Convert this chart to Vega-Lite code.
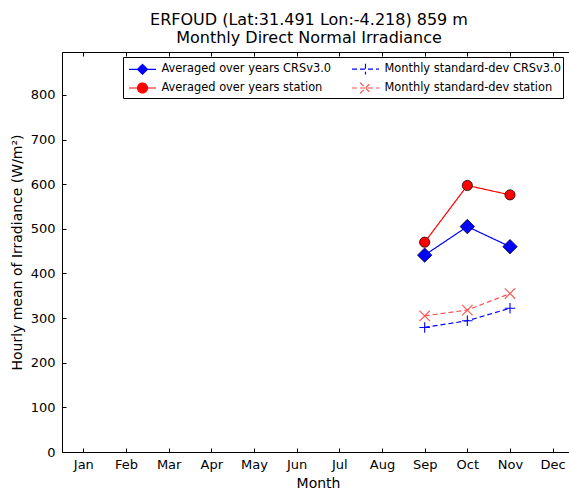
{
  "$schema": "https://vega.github.io/schema/vega-lite/v6.json",
  "autosize": {"type": "none"},
  "padding": {"left": 62, "top": 52, "right": 0, "bottom": 39},
  "width": 512,
  "height": 400,
  "background": "white",
  "config": {
    "font": "DejaVu Sans",
    "view": {"stroke": "black", "strokeWidth": 1},
    "axis": {"grid": false, "domainColor": "black", "tickColor": "black", "labelColor": "black", "titleColor": "black", "labelFont": "DejaVu Sans", "titleFont": "DejaVu Sans", "titleFontWeight": "normal"}
  },
  "title": {
    "text": ["ERFOUD (Lat:31.491 Lon:-4.218) 859 m", "Monthly Direct Normal Irradiance"],
    "fontSize": 16,
    "fontWeight": "normal",
    "font": "DejaVu Sans",
    "color": "black",
    "lineHeight": 18,
    "offset": 6,
    "dx": -9,
    "anchor": "middle"
  },
  "data": {
    "values": [
      {"month": 9, "series": "Averaged over years CRSv3.0", "value": 441},
      {"month": 10, "series": "Averaged over years CRSv3.0", "value": 505},
      {"month": 11, "series": "Averaged over years CRSv3.0", "value": 460},
      {"month": 9, "series": "Averaged over years station", "value": 470},
      {"month": 10, "series": "Averaged over years station", "value": 597},
      {"month": 11, "series": "Averaged over years station", "value": 576},
      {"month": 9, "series": "Monthly standard-dev CRSv3.0", "value": 279},
      {"month": 10, "series": "Monthly standard-dev CRSv3.0", "value": 294},
      {"month": 11, "series": "Monthly standard-dev CRSv3.0", "value": 322},
      {"month": 9, "series": "Monthly standard-dev station", "value": 305},
      {"month": 10, "series": "Monthly standard-dev station", "value": 318},
      {"month": 11, "series": "Monthly standard-dev station", "value": 355}
    ]
  },
  "resolve": {"axis": {"x": "independent"}},
  "layer": [
    {
      "mark": {"type": "point", "opacity": 0, "strokeWidth": 1.2},
      "encoding": {
        "x": {
          "field": "month", "type": "quantitative",
          "scale": {"domain": [0.5, 12.5], "nice": false, "zero": false},
          "axis": {"orient": "top", "values": [1,2,3,4,5,6,7,8,9,10,11,12], "labels": false, "domain": false, "tickSize": -4, "title": null}
        },
        "y": {
          "field": "value", "type": "quantitative",
          "scale": {"domain": [0, 896], "nice": false},
          "axis": {
            "values": [0,100,200,300,400,500,600,700,800],
            "title": "Hourly mean of Irradiance (W/m²)", "titleFontSize": 14, "labelFontSize": 13,
            "tickSize": -4, "labelPadding": 11, "titlePadding": 6, "labelFlush": false
          }
        },
        "fill": {"field": "series", "type": "nominal",
          "scale": {
            "domain": ["Averaged over years CRSv3.0", "Averaged over years station", "Monthly standard-dev CRSv3.0", "Monthly standard-dev station"],
            "range": ["#0000ff", "#ff0000", "#0000ff", "#ff5050"]
          },
          "legend": {
            "title": null, "orient": "none", "legendX": 61, "legendY": 5,
            "columns": 2, "columnPadding": 16, "rowPadding": 1,
            "symbolSize": 324, "symbolOffset": 7.5, "symbolStrokeWidth": 1.2, "labelFontSize": 11.4, "labelFont": "DejaVu Sans", "labelColor": "black",
            "labelOffset": 9, "labelLimit": 300,
            "strokeColor": "black", "fillColor": "white", "padding": 2, "cornerRadius": 0,
            "encode": {"symbols": {"update": {"opacity": {"value": 1}}}}
          }
        },
        "stroke": {"field": "series", "type": "nominal",
          "scale": {
            "domain": ["Averaged over years CRSv3.0", "Averaged over years station", "Monthly standard-dev CRSv3.0", "Monthly standard-dev station"],
            "range": ["#0000ff", "#ff0000", "#0000ff", "#ff5050"]
          }
        },
        "strokeDash": {"field": "series", "type": "nominal",
          "scale": {
            "domain": ["Averaged over years CRSv3.0", "Averaged over years station", "Monthly standard-dev CRSv3.0", "Monthly standard-dev station"],
            "range": [[1, 0], [1, 0], [5, 3], [5, 3]]
          }
        },
        "shape": {"field": "series", "type": "nominal",
          "scale": {
            "domain": ["Averaged over years CRSv3.0", "Averaged over years station", "Monthly standard-dev CRSv3.0", "Monthly standard-dev station"],
            "range": [
              "M-1.5,0H1.5M0,-0.55L0.55,0L0,0.55L-0.55,0Z",
              "M-1.5,0H1.5M0.55,0A0.55,0.55,0,1,1,-0.55,0A0.55,0.55,0,1,1,0.55,0Z",
              "M-1.5,0H1.5M0,-0.6V0.6",
              "M-1.5,0H1.5M-0.6,-0.6L0.6,0.6M-0.6,0.6L0.6,-0.6"
            ]
          }
        }
      }
    },
    {
      "mark": {"type": "line", "strokeWidth": 1.2},
      "encoding": {
        "x": {
          "field": "month", "type": "quantitative",
          "axis": {
            "values": [1,2,3,4,5,6,7,8,9,10,11,12],
            "labelExpr": "['Jan','Feb','Mar','Apr','May','Jun','Jul','Aug','Sep','Oct','Nov','Dec'][datum.value-1]",
            "title": "Month", "titleFontSize": 14, "labelFontSize": 13,
            "tickSize": -4, "labelPadding": 10, "titlePadding": 5, "labelFlush": false, "labelOverlap": false
          }
        },
        "y": {"field": "value", "type": "quantitative"},
        "stroke": {"field": "series", "type": "nominal",
          "scale": {
            "domain": ["Averaged over years CRSv3.0", "Averaged over years station", "Monthly standard-dev CRSv3.0", "Monthly standard-dev station"],
            "range": ["#0000ff", "#ff0000", "#0000ff", "#ff5050"]
          }
        },
        "strokeDash": {"field": "series", "type": "nominal",
          "scale": {
            "domain": ["Averaged over years CRSv3.0", "Averaged over years station", "Monthly standard-dev CRSv3.0", "Monthly standard-dev station"],
            "range": [[1, 0], [1, 0], [5, 3], [5, 3]]
          }
        }
      }
    },
    {
      "transform": [{"filter": "datum.series === 'Averaged over years CRSv3.0'"}],
      "mark": {"type": "point", "shape": "diamond", "size": 210, "filled": true, "fill": "#0000ff", "stroke": "black", "strokeWidth": 0.7, "opacity": 1},
      "encoding": {
        "x": {"field": "month", "type": "quantitative", "axis": null},
        "y": {"field": "value", "type": "quantitative"}
      }
    },
    {
      "transform": [{"filter": "datum.series === 'Averaged over years station'"}],
      "mark": {"type": "point", "shape": "circle", "size": 105, "filled": true, "fill": "#ff0000", "stroke": "black", "strokeWidth": 0.7, "opacity": 1},
      "encoding": {
        "x": {"field": "month", "type": "quantitative", "axis": null},
        "y": {"field": "value", "type": "quantitative"}
      }
    },
    {
      "transform": [{"filter": "datum.series === 'Monthly standard-dev CRSv3.0'"}],
      "mark": {"type": "point", "shape": "M-1,0H1M0,-1V1", "size": 110, "filled": false, "stroke": "#0000ff", "strokeWidth": 1.1, "opacity": 1},
      "encoding": {
        "x": {"field": "month", "type": "quantitative", "axis": null},
        "y": {"field": "value", "type": "quantitative"}
      }
    },
    {
      "transform": [{"filter": "datum.series === 'Monthly standard-dev station'"}],
      "mark": {"type": "point", "shape": "M-1,-1L1,1M-1,1L1,-1", "size": 110, "filled": false, "stroke": "#ff5050", "strokeWidth": 1.1, "opacity": 1},
      "encoding": {
        "x": {"field": "month", "type": "quantitative", "axis": null},
        "y": {"field": "value", "type": "quantitative"}
      }
    }
  ]
}
